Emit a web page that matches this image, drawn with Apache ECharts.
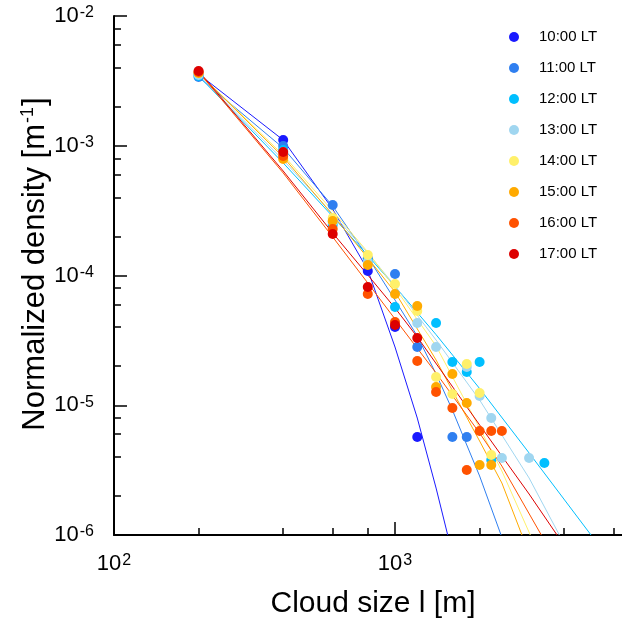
<!DOCTYPE html>
<html>
<head>
<meta charset="utf-8">
<script src="https://cdn.jsdelivr.net/npm/echarts@6/dist/echarts.min.js"></script>
<style>html,body{margin:0;padding:0;background:#fff}#c{width:622px;height:626px}</style>
</head>
<body>
<div id="c"></div>
<script>
// ---- data ----
const seriesNames = ['10:00 LT','11:00 LT','12:00 LT','13:00 LT','14:00 LT','15:00 LT','16:00 LT','17:00 LT'];
const seriesColors = ['#1a1aff','#2f7ff0','#00bfff','#a0d6f0','#fff06a','#ffaa00','#ff5200','#dd0000'];

const pts10x = [200, 400, 800, 1000, 1200];
const pts10y = [3.57e-3, 1.107e-3, 1.083e-4, 4.01e-5, 5.69e-6];
const fit10x = [200, 400, 600, 800, 1000, 1200, 1400, 1540];
const fit10y = [3.57e-3, 1.107e-3, 3.25e-4, 1.103e-4, 2.81e-5, 7.97e-6, 2.30e-6, 1.0e-6];

const pts11x = [200, 400, 600, 800, 1000, 1200, 1600, 1800];
const pts11y = [3.39e-3, 9.96e-4, 3.49e-4, 1.36e-4, 1.027e-4, 2.81e-5, 5.69e-6, 5.69e-6];
const fit11x = [200, 400, 600, 800, 1000, 1200, 1400, 1600, 1800, 2000, 2384];
const fit11y = [3.39e-3, 9.61e-4, 3.43e-4, 1.389e-4, 6.47e-5, 3.42e-5, 1.741e-5, 9.19e-6, 4.94e-6, 2.85e-6, 1.0e-6];

const pts12x = [200, 400, 600, 800, 1000, 1400, 1600, 1800, 2000, 2200, 3400];
const pts12y = [3.45e-3, 9.27e-4, 2.45e-4, 1.293e-4, 5.72e-5, 4.30e-5, 2.154e-5, 1.804e-5, 2.154e-5, 3.78e-6, 3.59e-6];
const fit12x = [200, 400, 600, 800, 1000, 1400, 2000, 3000, 4983];
const fit12y = [3.45e-3, 7.37e-4, 2.85e-4, 1.426e-4, 8.23e-5, 3.50e-5, 1.346e-5, 4.29e-6, 1.0e-6];

const pts13x = [200, 400, 600, 800, 1200, 1400, 1800, 2000, 2200, 2400, 3000];
const pts13y = [3.51e-3, 8.95e-4, 2.584e-4, 1.271e-4, 4.30e-5, 2.81e-5, 1.971e-5, 1.178e-5, 7.97e-6, 3.92e-6, 3.92e-6];
const fit13x = [200, 400, 600, 800, 1000, 1400, 2000, 3000, 3845];
const fit13y = [3.51e-3, 7.77e-4, 2.98e-4, 1.491e-4, 8.30e-5, 3.18e-5, 1.098e-5, 2.75e-6, 1.0e-6];

const pts14x = [200, 400, 600, 800, 1000, 1200, 1400, 1600, 1800, 2000, 2200];
const pts14y = [3.64e-3, 8.64e-4, 2.774e-4, 1.439e-4, 8.60e-5, 5.32e-5, 1.651e-5, 1.221e-5, 2.079e-5, 1.243e-5, 4.136e-6];
const fit14x = [200, 400, 600, 800, 1000, 1400, 2000, 2400, 3030];
const fit14y = [3.637e-3, 8.485e-4, 3.141e-4, 1.518e-4, 8.01e-5, 2.862e-5, 6.677e-6, 3.113e-6, 1.0e-6];

const pts15x = [200, 400, 600, 800, 1000, 1200, 1400, 1600, 1800, 2000, 2200];
const pts15y = [3.64e-3, 7.90e-4, 2.63e-4, 1.205e-4, 7.20e-5, 5.82e-5, 1.382e-5, 1.741e-5, 1.041e-5, 3.46e-6, 3.46e-6];
const fit15x = [200, 400, 600, 800, 1000, 1400, 1660, 2000, 2400, 2830];
const fit15y = [3.64e-3, 8.19e-4, 2.927e-4, 1.364e-4, 7.46e-5, 2.232e-5, 1.117e-5, 5.30e-6, 2.517e-6, 1.0e-6];

const pts16x = [200, 400, 600, 800, 1000, 1200, 1400, 1600, 1800, 2000, 2200, 2400];
const pts16y = [3.70e-3, 8.34e-4, 2.282e-4, 7.20e-5, 4.38e-5, 2.193e-5, 1.265e-5, 9.52e-6, 3.17e-6, 6.33e-6, 6.33e-6, 6.33e-6];
const fit16x = [200, 400, 600, 800, 1000, 1400, 2000, 2400, 3316];
const fit16y = [3.70e-3, 6.17e-4, 1.981e-4, 8.75e-5, 4.62e-5, 1.772e-5, 6.11e-6, 3.40e-6, 1.0e-6];

const pts17x = [200, 400, 600, 800, 1000, 1200];
const pts17y = [3.77e-3, 8.95e-4, 2.089e-4, 8.155e-5, 4.154e-5, 3.298e-5];
const fit17x = [200, 400, 600, 800, 1000, 1200, 2000, 3000, 3772];
const fit17y = [3.77e-3, 6.39e-4, 2.126e-4, 1.009e-4, 5.62e-5, 3.36e-5, 7.05e-6, 2.07e-6, 1.0e-6];

const xMajorTicks = [100, 1000];
const xMinorTicks = [200, 400, 600, 800, 2000, 4000, 6000];
const yMajorTicks = [1e-6, 1e-5, 1e-4, 1e-3, 1e-2];
const yMinorTicks = [2e-6, 4e-6, 6e-6, 8e-6, 2e-5, 4e-5, 6e-5, 8e-5, 2e-4, 4e-4, 6e-4, 8e-4, 2e-3, 4e-3, 6e-3, 8e-3];
const xAxisTitle = 'Cloud size l [m]';
const yAxisTitleMain = 'Normalized density [m';
const yAxisTitleSup = '-1';

// ---- build ----
const ptsX = [pts10x, pts11x, pts12x, pts13x, pts14x, pts15x, pts16x, pts17x];
const ptsY = [pts10y, pts11y, pts12y, pts13y, pts14y, pts15y, pts16y, pts17y];
const fitX = [fit10x, fit11x, fit12x, fit13x, fit14x, fit15x, fit16x, fit17x];
const fitY = [fit10y, fit11y, fit12y, fit13y, fit14y, fit15y, fit16y, fit17y];
const zip = (a, b) => a.map((v, i) => [v, b[i]]);

const FONT = 'Liberation Sans, Arial, Helvetica, sans-serif';
const powRich = {
  b: { fontSize: 22, lineHeight: 22, fontFamily: FONT, color: '#000', verticalAlign: 'bottom' },
  s: { fontSize: 16, lineHeight: 16, fontFamily: FONT, color: '#000', verticalAlign: 'top', padding: [0, 0, 11, 1] }
};
const powFmt = v => '{b|10}{s|' + Math.round(Math.log10(v)) + '}';

const series = [];
seriesNames.forEach((n, i) => {
  series.push({
    name: n + ' fit', type: 'line', xAxisIndex: 0, yAxisIndex: 0,
    data: zip(fitX[i], fitY[i]), showSymbol: false, symbol: 'none',
    lineStyle: { color: seriesColors[i], width: 1 }, z: 2, silent: true, animation: false
  });
});
seriesNames.forEach((n, i) => {
  series.push({
    name: n, type: 'scatter', xAxisIndex: 0, yAxisIndex: 0,
    data: zip(ptsX[i], ptsY[i]), symbol: 'circle', symbolSize: 10,
    itemStyle: { color: seriesColors[i], opacity: 1 }, z: 3 + i, animation: false
  });
});

const xBase = {
  type: 'log', logBase: 10, min: 100, max: 7000, gridIndex: 0, position: 'bottom',
  splitLine: { show: false }, minorTick: { show: false }, minorSplitLine: { show: false }
};
const yBase = {
  type: 'log', logBase: 10, min: 1e-6, max: 1e-2, gridIndex: 0, position: 'left',
  splitLine: { show: false }, minorTick: { show: false }, minorSplitLine: { show: false }
};

const chart = echarts.init(document.getElementById('c'), null, { renderer: 'canvas' });
chart.setOption({
  animation: false,
  backgroundColor: '#fff',
  grid: { left: 114, top: 16, width: 518.5, height: 519, containLabel: false, outerBoundsMode: 'none' },
  xAxis: [
    Object.assign({}, xBase, {
      axisLine: { show: true, onZero: false, lineStyle: { color: '#000', width: 2 } },
      axisTick: { show: true, inside: true, length: 13, lineStyle: { color: '#000', width: 1.5 }, customValues: xMajorTicks },
      axisLabel: { show: true, customValues: xMajorTicks, formatter: powFmt, rich: powRich, margin: 18 }
    }),
    Object.assign({}, xBase, {
      axisLine: { show: false, onZero: false },
      axisTick: { show: true, inside: true, length: 7, lineStyle: { color: '#000', width: 1.5 }, customValues: xMinorTicks },
      axisLabel: { show: false }
    })
  ],
  yAxis: [
    Object.assign({}, yBase, {
      axisLine: { show: true, onZero: false, lineStyle: { color: '#000', width: 2 } },
      axisTick: { show: true, inside: true, length: 13, lineStyle: { color: '#000', width: 1.5 }, customValues: yMajorTicks },
      axisLabel: { show: true, customValues: yMajorTicks, formatter: powFmt, rich: powRich, margin: 20 }
    }),
    Object.assign({}, yBase, {
      axisLine: { show: false, onZero: false },
      axisTick: { show: true, inside: true, length: 7, lineStyle: { color: '#000', width: 1.5 }, customValues: yMinorTicks },
      axisLabel: { show: false }
    })
  ],
  legend: {
    data: seriesNames, orient: 'vertical', left: 509, top: 29.5, padding: 0,
    itemWidth: 40, itemHeight: 10, itemGap: 16, selectedMode: false, icon: 'circle',
    textStyle: { fontFamily: FONT, fontSize: 15, lineHeight: 10, color: '#000' }
  },
  graphic: [
    { type: 'text', x: 373, y: 604, silent: true,
      style: { text: xAxisTitle, font: '30px ' + FONT, fill: '#000', align: 'center', verticalAlign: 'middle' } },
    { type: 'text', x: 35, y: 264, rotation: Math.PI / 2, silent: true,
      style: { text: '{n|' + yAxisTitleMain + '}{s|' + yAxisTitleSup + '}{n|]}', align: 'center', verticalAlign: 'middle',
        rich: {
          n: { fontSize: 31, lineHeight: 31, fontFamily: FONT, fill: '#000', color: '#000', verticalAlign: 'bottom' },
          s: { fontSize: 18, lineHeight: 18, fontFamily: FONT, fill: '#000', color: '#000', verticalAlign: 'top', padding: [0, 1, 14, 1] }
        } } }
  ],
  series: series
});
</script>
</body>
</html>
